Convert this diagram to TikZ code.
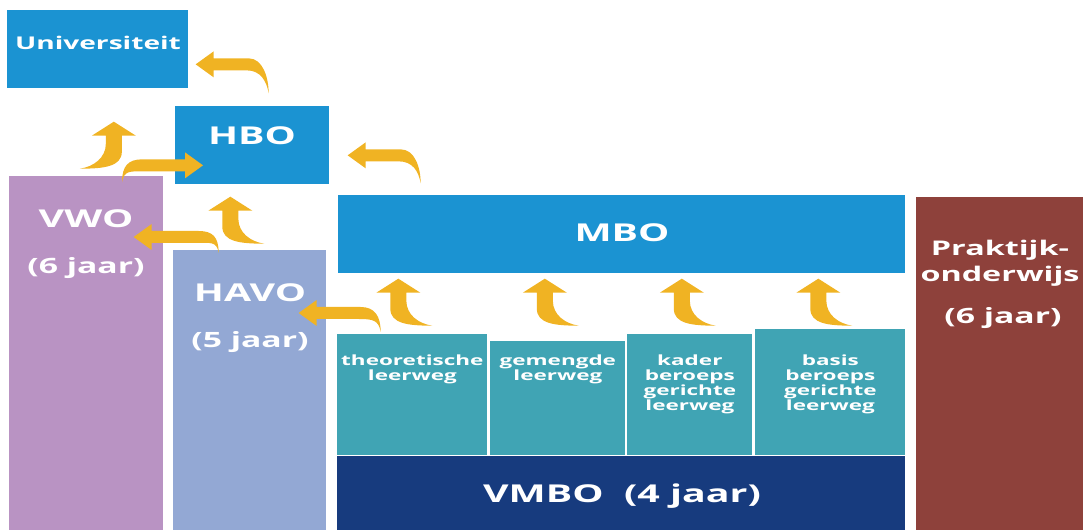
\documentclass[tikz,border=0pt]{standalone}
\usepackage{fontspec}
\setmainfont{Open Sans}[FakeStretch=1.6]
\usetikzlibrary{calc}

\definecolor{uniblue}{HTML}{1B93D2}
\definecolor{vwopurple}{HTML}{B993C3}
\definecolor{havoblue}{HTML}{93A8D4}
\definecolor{leerteal}{HTML}{40A4B4}
\definecolor{vmboblue}{HTML}{173B7E}
\definecolor{praktred}{HTML}{8E413B}
\definecolor{goldarrow}{HTML}{F0B323}

\tikzset{
  box/.style={draw=none, inner sep=0pt, anchor=north west},
  lab/.style={text=white, inner sep=0pt},
  headlab/.style={lab, font=\bfseries\fontsize{14}{17}\selectfont},
  yearlab/.style={lab, font=\bfseries\fontsize{12}{15}\selectfont},
  univlab/.style={lab, font=\bfseries\fontsize{10}{12}\selectfont},
  leerlab/.style={lab, align=center, font=\bfseries\fontsize{8}{8.7}\selectfont},
  praklab/.style={lab, align=center, font=\bfseries\fontsize{11.5}{14.8}\selectfont},
  % block arrow going up, tip at the pic origin, tail curling to the lower right
  pics/uphook/.style={code={
    \fill[goldarrow] (0,0) -- (22,14) -- (8,14) -- (8,22)
      .. controls (8,36) and (20,45) .. (34,47)
      .. controls (10,47) and (-8,45) .. (-8,30) -- (-8,14) -- (-22,14) -- cycle;
  }},
  % block arrow going left, tip at the pic origin, tail dropping down at (#1,#2)
  pics/sidehook/.style 2 args={code={
    \fill[goldarrow] (0,0) -- (18,-13) -- (18,-6) -- (#1-20,-6)
      .. controls (#1-6,-6) and (#1,#2-16) .. (#1,#2)
      .. controls (#1-2,#2-12) and (#1-8,6) .. (#1-22,6) -- (18,6) -- (18,13) -- cycle;
  }},
}

\begin{document}
\begin{tikzpicture}[x=0.02cm, y=-0.02cm]
  \clip (0,0) rectangle (1083,530);
  % Boxes
  \node[box, fill=uniblue, minimum width=3.62cm, minimum height=1.56cm] (univ) at (7,10) {};
  \node[box, fill=uniblue, minimum width=3.08cm, minimum height=1.56cm] (hbo) at (175,106) {};
  \node[box, fill=vwopurple, minimum width=3.08cm, minimum height=7.2cm] (vwo) at (9,176) {};
  \node[box, fill=havoblue, minimum width=3.06cm, minimum height=5.7cm] (havo) at (173,250) {};
  \node[box, fill=uniblue, minimum width=11.34cm, minimum height=1.56cm] (mbo) at (338,195) {};
  \node[box, fill=praktred, minimum width=3.6cm, minimum height=6.8cm] (prakt) at (916,197) {};
  \node[box, fill=leerteal, minimum width=3.0cm, minimum height=2.42cm] (theo) at (337,334) {};
  \node[box, fill=leerteal, minimum width=2.7cm, minimum height=2.28cm] (gem) at (490,341) {};
  \node[box, fill=leerteal, minimum width=2.5cm, minimum height=2.42cm] (kader) at (627,334) {};
  \node[box, fill=leerteal, minimum width=3.0cm, minimum height=2.52cm] (basis) at (755,329) {};
  \node[box, fill=vmboblue, minimum width=11.36cm, minimum height=1.6cm] (vmbo) at (337,456) {};

  % Texts
  \node[univlab] (univtxt) at (98,43) {Universiteit};
  \node[headlab] (hbotxt) at (252,136) {HBO};
  \node[headlab] (vwotxt) at (86,219) {VWO};
  \node[yearlab] (vwojaar) at (86,268) {(6 jaar)};
  \node[headlab] (havotxt) at (250,293) {HAVO};
  \node[yearlab] (havojaar) at (250,342) {(5 jaar)};
  \node[headlab] (mbotxt) at (622,233) {MBO};
  \node[praklab, anchor=north] (prakttxt) at (1000,240) {Praktijk-\\onderwijs};
  \node[yearlab] (praktjaar) at (1003,318) {(6 jaar)};
  \node[headlab] (vmbotxt) at (622,496) {VMBO~~(4 jaar)};
  \foreach \b/\t in {theo/{theoretische\\leerweg}, gem/{gemengde\\leerweg},
                     kader/{kader\\beroeps\\gerichte\\leerweg}, basis/{basis\\beroeps\\gerichte\\leerweg}} {
    \node[leerlab, anchor=north, yshift=-0.4cm] (\b-txt) at (\b.north |- theo.north) {\t};
  }

  % Arrows up into MBO
  \foreach \b/\dx in {theo/-14, gem/-13, kader/-8, basis/-12} {
    \pic at ($(\b.north |- mbo.south)+(\dx,5)$) {uphook};
  }
  % Other up arrows
  \pic at ($(hbo.south)+(-22,12)$) {uphook};
  \pic[xscale=-1] at ($(univ.south)+(16,33)$) {uphook};
  % Side arrows
  \pic at ($(univ.east)+(7,15)$) {sidehook={73}{29}};
  \pic at ($(hbo.east)+(18,10)$) {sidehook={73}{28}};
  \pic[xscale=-1] at ($(hbo.west)+(28,20)$) {sidehook={81}{17}};
  \pic at ($(vwo.north east)+(-30,61)$) {sidehook={85}{16}};
  \pic at ($(havo.north east)+(-28,63)$) {sidehook={82}{19}};
\end{tikzpicture}
\end{document}
